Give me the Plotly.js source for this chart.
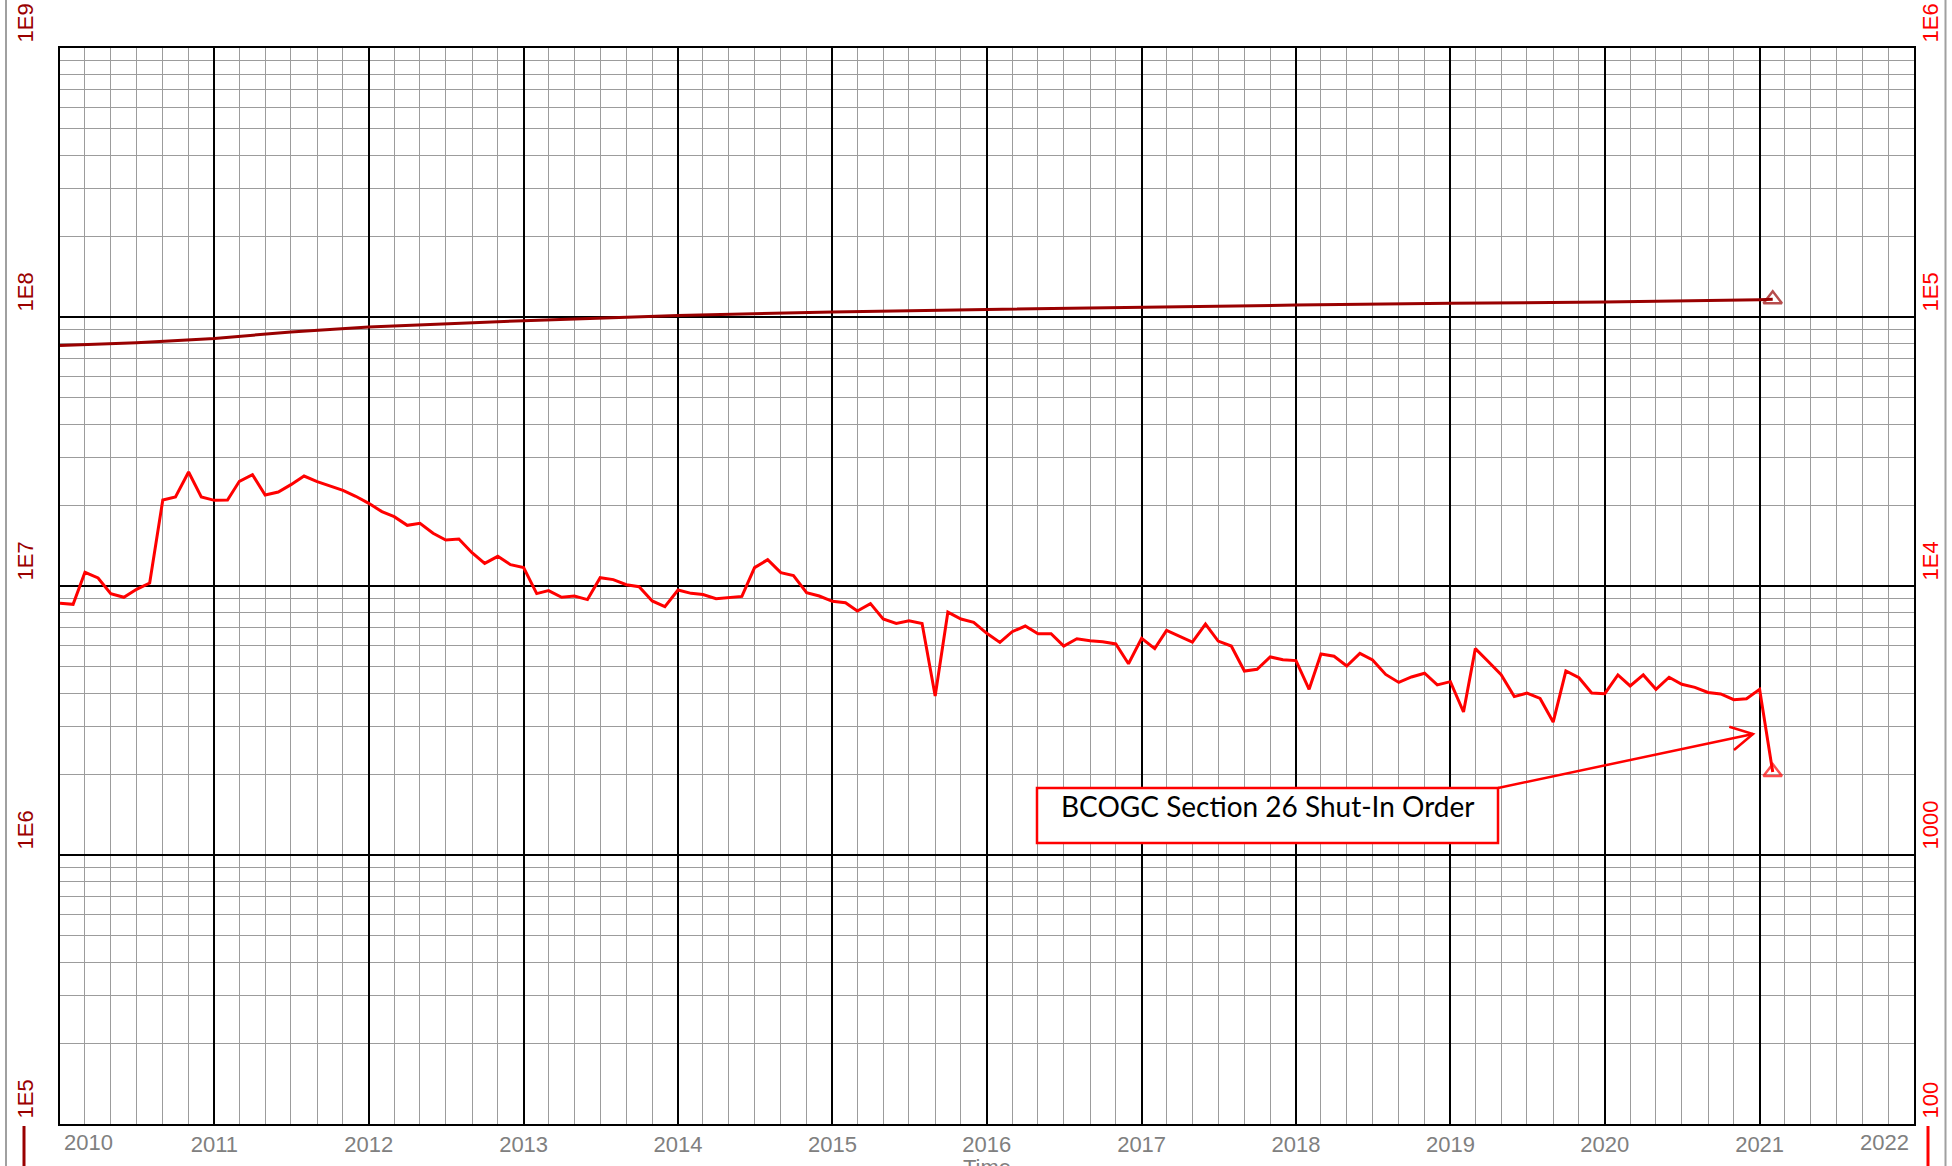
<!DOCTYPE html>
<html><head><meta charset="utf-8">
<script src="https://cdn.plot.ly/plotly-3.0.1.min.js"></script>
<style>html,body{margin:0;padding:0;background:#fff;} #chart{width:1952px;height:1166px;}</style>
</head><body><div id="chart"></div>
<script>
// ---- data ----
const rateStartYear = 2010;
const rateValues = [
  8620, 8550, 11240, 10710, 9370, 9080, 9720, 10260, 20880, 21420, 26540, 21420,
  20820, 20880, 24500, 25940, 21790, 22360, 23810, 25640, 24430, 23530, 22680, 21550,
  20290, 18900, 18100, 16810, 17100, 15700, 14830, 14950, 13300, 12140, 12890, 12000,
  11700, 9370, 9610, 9080, 9180, 8900, 10740, 10560, 10110, 9940, 8800, 8380,
  9660, 9390, 9290, 8970, 9030, 9150, 11700, 12530, 11210, 10930, 9450, 9180,
  8770, 8670, 8070, 8600, 7540, 7260, 7430, 7260, 3900, 8000, 7540, 7330,
  6670, 6170, 6760, 7100, 6650, 6650, 5980, 6370, 6260, 6210, 6090, 5140,
  6390, 5850, 6840, 6500, 6190, 7220, 6240, 5980, 4830, 4900, 5450, 5320,
  5280, 4130, 5590, 5480, 5040, 5620, 5310, 4690, 4380, 4590, 4740, 4290,
  4410, 3400, 5850, 5230, 4680, 3880, 4000, 3820, 3120, 4830, 4560, 4000,
  3980, 4670, 4250, 4670, 4130, 4580, 4310, 4200, 4020, 3970, 3780, 3810,
  4130, 2035
];
const cumDates = ['2010-01-01','2010-07-01','2011-01-01','2011-07-01','2012-01-01','2013-01-01','2014-01-01','2015-01-01',
  '2016-01-01','2017-01-01','2018-01-01','2019-01-01','2020-01-01','2021-01-01','2021-02-01'];
const cumValues = [7.83e7, 8.02e7, 8.32e7, 8.80e7, 9.17e7, 9.69e7, 1.013e8, 1.044e8,
  1.066e8, 1.089e8, 1.107e8, 1.125e8, 1.137e8, 1.160e8, 1.163e8];
const yearTicks = ['2011','2012','2013','2014','2015','2016','2017','2018','2019','2020','2021'];
const edgeYears = ['2010','2022'];
const leftLabels = ['1E5','1E6','1E7','1E8','1E9'];
const leftDecades = [5,6,7,8,9];
const rightLabels = ['100','1000','1E4','1E5','1E6'];
const rightDecades = [2,3,4,5,6];
const noteText = 'BCOGC Section 26 Shut-In Order';
const xTitle = 'Time';

// ---- build ----
const rateDates = rateValues.map((v,i)=>{
  const y = rateStartYear + Math.floor(i/12), m = i%12 + 1;
  return y + '-' + String(m).padStart(2,'0') + '-01';
});
const darkRed = '#990000', red = '#ff0000', gray = '#808080';
const lastIdx = (arr)=>arr.map((v,i)=> i===arr.length-1 ? 16 : 0);

const minorY = [];
for (let d=5; d<9; d++) for (let k=2; k<=9; k++) minorY.push(k*Math.pow(10,d));

const traces = [
  {x: cumDates, y: cumValues, type:'scatter', mode:'lines+markers', yaxis:'y',
   line:{color:darkRed, width:3}, cliponaxis:false,
   marker:{symbol:'triangle-up-open', size:lastIdx(cumValues), color:darkRed, line:{color:darkRed, width:2.5}}},
  {x: rateDates, y: rateValues, type:'scatter', mode:'lines+markers', yaxis:'y2',
   line:{color:red, width:3}, cliponaxis:false,
   marker:{symbol:'triangle-up-open', size:lastIdx(rateValues), color:red, line:{color:red, width:2.5}}}
];

const L = 60, R = 38, T = 48, B = 42, W = 1952, H = 1166;
const pw = W-L-R, ph = H-T-B;
const px = (x)=>(x-L)/pw, py = (y)=>(T+ph-y)/ph;
const tickFont = {family:'Liberation Sans, Arial, sans-serif', size:22, color:gray};

const annotations = [];
leftDecades.forEach((d,i)=>annotations.push({xref:'paper', yref:'y', x:px(25), y:d, text:leftLabels[i],
  textangle:-90, xanchor:'center', yanchor:'bottom', yshift:3, showarrow:false,
  font:{family:'Liberation Sans, Arial, sans-serif', size:22, color:darkRed}}));
rightDecades.forEach((d,i)=>annotations.push({xref:'paper', yref:'y2', x:px(1930), y:d, text:rightLabels[i],
  textangle:-90, xanchor:'center', yanchor:'bottom', yshift:3, showarrow:false,
  font:{family:'Liberation Sans, Arial, sans-serif', size:22, color:red}}));
annotations.push({xref:'paper', yref:'paper', x:0, y:py(1142), text:edgeYears[0], xanchor:'left', yanchor:'middle', xshift:2, showarrow:false, font:tickFont});
annotations.push({xref:'paper', yref:'paper', x:1, y:py(1142), text:edgeYears[1], xanchor:'right', yanchor:'middle', xshift:-3, showarrow:false, font:tickFont});
annotations.push({xref:'paper', yref:'paper', x:0.5, y:py(1153), text:xTitle, xanchor:'center', yanchor:'top', showarrow:false, font:tickFont});
annotations.push({xref:'paper', yref:'paper', x:px(1267), y:py(806), text:noteText, xanchor:'center', yanchor:'middle', showarrow:false,
  font:{family:'Lato, Noto Sans, sans-serif', size:28, color:'#000'}});

const shapes = [
  {type:'line', xref:'paper', yref:'paper', x0:px(6), x1:px(6), y0:-0.06, y1:1.06, line:{color:'#a0a0a0', width:2}},
  {type:'line', xref:'paper', yref:'paper', x0:px(1945.5), x1:px(1945.5), y0:-0.06, y1:1.06, line:{color:'#a0a0a0', width:2}},
  {type:'line', xref:'paper', yref:'paper', x0:px(24), x1:px(24), y0:py(1126), y1:-0.06, line:{color:darkRed, width:3}},
  {type:'line', xref:'paper', yref:'paper', x0:px(1928), x1:px(1928), y0:py(1126), y1:-0.06, line:{color:red, width:3}},
  {type:'rect', xref:'paper', yref:'paper', x0:px(1037), x1:px(1498), y0:py(843), y1:py(788), layer:'above',
   line:{color:red, width:2.5}, fillcolor:'#ffffff'},
  {type:'line', xref:'paper', yref:'paper', x0:px(1498), y0:py(788), x1:px(1753), y1:py(734), layer:'above', line:{color:red, width:2.5}},
  {type:'path', xref:'paper', yref:'paper', layer:'above', line:{color:red, width:2.5},
   path:'M'+px(1729.3)+','+py(726.7)+' L'+px(1753)+','+py(734)+' L'+px(1734)+','+py(750)}
];

const layout = {
  width:W, height:H, margin:{l:L, r:R, t:T, b:B, pad:0},
  paper_bgcolor:'#ffffff', plot_bgcolor:'#ffffff', showlegend:false,
  xaxis:{type:'date', range:['2010-01-01','2022-01-01'], tickmode:'array',
    tickvals: yearTicks.map(y=>y+'-01-01'), ticktext: yearTicks, ticks:'',
    showgrid:true, gridcolor:'#000', gridwidth:2, zeroline:false,
    showline:true, linecolor:'#000', linewidth:2, mirror:true, tickfont:tickFont,
    minor:{dtick:'M2', tick0:'2010-01-01', showgrid:true, gridcolor:'#9c9c9c', gridwidth:1, ticks:''}},
  yaxis:{type:'log', range:[5,9], tickmode:'array', tickvals: leftDecades.map(d=>Math.pow(10,d)),
    showticklabels:false, ticks:'', showgrid:true, gridcolor:'#000', gridwidth:2, zeroline:false,
    showline:true, linecolor:'#000', linewidth:2, mirror:true,
    minor:{tickmode:'array', tickvals:minorY, showgrid:true, gridcolor:'#9c9c9c', gridwidth:1, ticks:''}},
  yaxis2:{type:'log', range:[2,6], overlaying:'y', side:'right', showgrid:false, showticklabels:false,
    ticks:'', zeroline:false, showline:false},
  annotations: annotations, shapes: shapes
};
Plotly.newPlot('chart', traces, layout, {staticPlot:true, displayModeBar:false});
</script></body></html>
